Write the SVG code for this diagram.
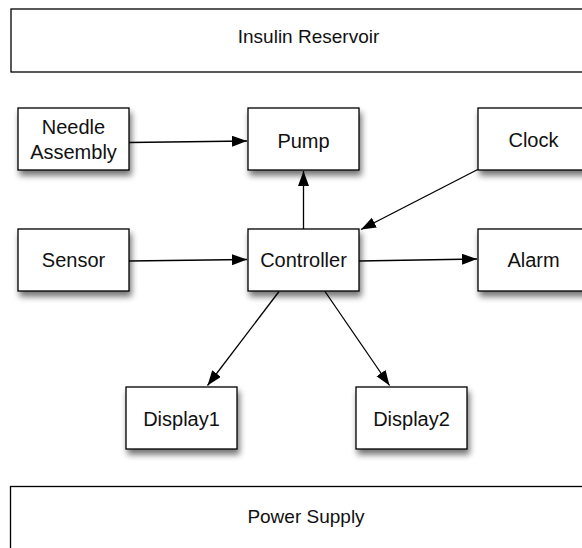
<svg xmlns="http://www.w3.org/2000/svg" width="582" height="548" viewBox="0 0 582 548">
<style>
.box{fill:#fff;stroke:#000;stroke-width:1.3}
.lbl{font-family:"Liberation Sans",Arial,sans-serif;font-size:20px;fill:#111;text-anchor:middle}
.big{font-family:"Liberation Sans",Arial,sans-serif;font-size:19px;fill:#111;text-anchor:middle}
.edge{stroke:#000;stroke-width:1.3;fill:none;marker-end:url(#arr)}
</style>
<defs>
<filter id="sh" x="-20%" y="-20%" width="150%" height="160%">
<feGaussianBlur in="SourceAlpha" stdDeviation="3"/>
<feOffset dx="2" dy="5" result="b"/>
<feComponentTransfer><feFuncA type="linear" slope="0.55"/></feComponentTransfer>
<feMerge><feMergeNode/><feMergeNode in="SourceGraphic"/></feMerge>
</filter>
<marker id="arr" markerWidth="16" markerHeight="12" refX="15" refY="5.5" orient="auto" markerUnits="userSpaceOnUse">
<path d="M0,0 L15,5.5 L0,11 Z" fill="#000"/>
</marker>
</defs>
<rect width="582" height="548" fill="#fff"/>
<g id="insulin-reservoir"><rect class="box" x="11" y="9" width="590" height="63"/><text class="big" x="308.5" y="43">Insulin Reservoir</text></g>
<g id="power-supply"><rect class="box" x="10.5" y="486.5" width="590" height="80"/><text class="big" x="306" y="523">Power Supply</text></g>
<g id="needle-assembly"><rect class="box" x="18" y="108" width="111" height="62" filter="url(#sh)"/><text class="lbl" x="73.5" y="134">Needle</text><text class="lbl" x="73.5" y="159">Assembly</text></g>
<g id="pump"><rect class="box" x="248" y="108" width="111" height="62" filter="url(#sh)"/><text class="lbl" x="303.5" y="148">Pump</text></g>
<g id="clock"><rect class="box" x="478" y="108" width="111" height="62" filter="url(#sh)"/><text class="lbl" x="533.5" y="147">Clock</text></g>
<g id="sensor"><rect class="box" x="18" y="229" width="111" height="62" filter="url(#sh)"/><text class="lbl" x="73.5" y="267">Sensor</text></g>
<g id="controller"><rect class="box" x="248" y="229" width="111" height="62" filter="url(#sh)"/><text class="lbl" x="303.5" y="267">Controller</text></g>
<g id="alarm"><rect class="box" x="478" y="229" width="111" height="62" filter="url(#sh)"/><text class="lbl" x="533.5" y="267">Alarm</text></g>
<g id="display1"><rect class="box" x="126" y="387" width="111" height="62" filter="url(#sh)"/><text class="lbl" x="181.5" y="426">Display1</text></g>
<g id="display2"><rect class="box" x="356" y="387" width="111" height="62" filter="url(#sh)"/><text class="lbl" x="411.5" y="426">Display2</text></g>
<g id="connectors">
<line class="edge" x1="129" y1="142.5" x2="247" y2="141"/>
<line class="edge" x1="129" y1="261" x2="247" y2="259.5"/>
<line class="edge" x1="303.5" y1="229" x2="303.5" y2="171"/>
<line class="edge" x1="477.7" y1="169.5" x2="361" y2="229.5"/>
<line class="edge" x1="359" y1="261" x2="477" y2="259"/>
<line class="edge" x1="279" y1="291.5" x2="207.5" y2="385.5"/>
<line class="edge" x1="325" y1="291.5" x2="389.5" y2="385.5"/>
</g>
</svg>
